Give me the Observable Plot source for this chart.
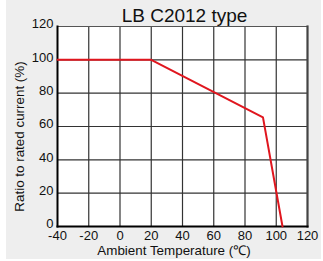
<!DOCTYPE html>
<html><head><meta charset="utf-8">
<script src="https://cdn.jsdelivr.net/npm/d3@7"></script>
<script src="https://cdn.jsdelivr.net/npm/@observablehq/plot@0.6"></script>
<style>
html,body{margin:0;padding:0;background:#fff;}
#wrap{position:absolute;left:0;top:0;width:323px;height:261px;}
#bg{position:absolute;left:6px;top:0;width:315px;height:259px;background:#eeeeee;}
#chart{position:absolute;left:0;top:0;}
</style></head>
<body><div id="wrap"><div id="bg"></div><div id="chart"></div></div>
<script>
const title = "LB C2012 type";
const temperature = [-40, 20, 91.5, 104];
const ratio = [100, 100, 65.5, 0];
const xTicks = [-40, -20, 0, 20, 40, 60, 80, 100, 120];
const yTicks = [0, 20, 40, 60, 80, 100, 120];
const xLabel = "Ambient Temperature (\u2103)";
const yLabel = "Ratio to rated current (%)";

const data = temperature.map((t, i) => ({t, r: ratio[i]}));
const font = "'Liberation Sans', Arial, sans-serif";
const fmt = d => String(d);

const plot = Plot.plot({
  width: 323, height: 261,
  marginLeft: 57, marginRight: 16, marginTop: 26, marginBottom: 35,
  style: {background: "transparent", fontFamily: font, fontSize: "13px", color: "#111"},
  x: {domain: [-40, 120], label: null},
  y: {domain: [0, 120], label: null},
  marks: [
    Plot.frame({fill: "#fff"}),
    Plot.gridX(xTicks.slice(1, -1), {stroke: "#333", strokeOpacity: 1, strokeWidth: 1.2}),
    Plot.gridY(yTicks.slice(1, -1), {stroke: "#333", strokeOpacity: 1, strokeWidth: 1.2}),
    Plot.frame({anchor: "top", stroke: "#555", strokeWidth: 1}),
    Plot.frame({anchor: "right", stroke: "#444", strokeWidth: 2.2}),
    Plot.frame({anchor: "left", stroke: "#000", strokeWidth: 2}),
    Plot.frame({anchor: "bottom", stroke: "#000", strokeWidth: 2}),
    Plot.line(data, {x: "t", y: "r", stroke: "#e0161e", strokeWidth: 2}),
    Plot.axisX(xTicks, {tickSize: 0, tickPadding: 4, fontSize: 13, label: null, tickFormat: fmt}),
    Plot.axisY(yTicks, {tickSize: 0, tickPadding: 4, fontSize: 13, label: null, dy: -2.5, tickFormat: fmt}),
    Plot.text([title], {frameAnchor: "top", lineAnchor: "middle", dy: -10.5, dx: 2, fontSize: 19, fill: "#111"}),
    Plot.text([xLabel], {frameAnchor: "bottom", lineAnchor: "middle", dy: 24, dx: -8.5, fontSize: 13.4, fill: "#111"}),
    Plot.text([yLabel], {frameAnchor: "left", textAnchor: "middle", lineAnchor: "middle", dx: -38, dy: 10, rotate: -90, fontSize: 13.4, fill: "#111"})
  ]
});
document.getElementById("chart").appendChild(plot);
</script></body></html>
